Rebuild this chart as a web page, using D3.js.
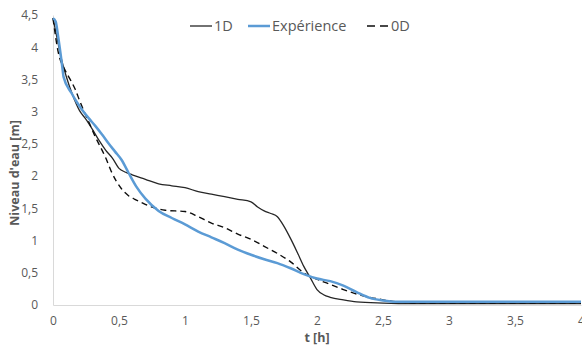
<!DOCTYPE html>
<html lang="fr">
<head>
<meta charset="UTF-8">
<title>Niveau d'eau</title>
<script src="https://cdn.jsdelivr.net/npm/d3@7"></script>
<style>
  body { margin: 0; background: #fff; }
  .tick text { font-family: "Open Sans", sans-serif; font-size: 12px; fill: #595959; }
  .axis-title { font-family: "Open Sans", sans-serif; font-weight: bold; font-size: 12.5px; fill: #595959; }
  .legend text { font-family: "Open Sans", sans-serif; font-size: 14.5px; fill: #595959; }
</style>
</head>
<body>
<div id="chart"></div>
<script>
// water level series
var t1D = [0, 0.03, 0.06, 0.1, 0.15, 0.2, 0.25, 0.3, 0.35, 0.4, 0.45, 0.5, 0.55, 0.6, 0.7, 0.8, 0.9, 1.0, 1.1, 1.2, 1.3, 1.4, 1.5, 1.55, 1.6, 1.65, 1.7, 1.75, 1.8, 1.85, 1.9, 1.95, 2.0, 2.05, 2.1, 2.2, 2.3, 2.5, 2.7, 3.0, 3.5, 4.0];
var v1D = [4.45, 4.15, 3.85, 3.55, 3.25, 3.02, 2.88, 2.72, 2.55, 2.4, 2.28, 2.12, 2.06, 2.02, 1.95, 1.88, 1.85, 1.82, 1.76, 1.72, 1.68, 1.64, 1.6, 1.52, 1.46, 1.42, 1.37, 1.22, 1.03, 0.82, 0.6, 0.42, 0.24, 0.16, 0.12, 0.08, 0.05, 0.03, 0.02, 0.02, 0.02, 0.02];

var tExp = [0, 0.02, 0.04, 0.07, 0.08, 0.14, 0.18, 0.22, 0.27, 0.32, 0.37, 0.42, 0.47, 0.52, 0.57, 0.63, 0.7, 0.8, 0.9, 1.0, 1.1, 1.2, 1.3, 1.4, 1.5, 1.6, 1.7, 1.8, 1.9, 2.0, 2.1, 2.2, 2.3, 2.4, 2.5, 2.6, 3.0, 3.5, 4.0];
var vExp = [4.45, 4.4, 4.15, 3.7, 3.54, 3.29, 3.15, 3.03, 2.9, 2.78, 2.65, 2.51, 2.38, 2.25, 2.06, 1.84, 1.65, 1.46, 1.35, 1.25, 1.14, 1.05, 0.96, 0.86, 0.78, 0.71, 0.65, 0.57, 0.48, 0.41, 0.37, 0.3, 0.2, 0.11, 0.07, 0.05, 0.05, 0.05, 0.05];

var t0D = [0, 0.04, 0.09, 0.13, 0.17, 0.2, 0.24, 0.28, 0.32, 0.36, 0.4, 0.44, 0.48, 0.52, 0.57, 0.62, 0.68, 0.75, 0.85, 1.0, 1.1, 1.2, 1.3, 1.4, 1.5, 1.6, 1.7, 1.8, 1.9, 2.0, 2.1, 2.2, 2.3, 2.4, 2.5, 2.6, 2.8, 3.0, 3.5, 4.0];
var v0D = [4.45, 3.92, 3.65, 3.5, 3.34, 3.18, 2.98, 2.8, 2.61, 2.45, 2.28, 2.08, 1.92, 1.8, 1.7, 1.64, 1.58, 1.52, 1.47, 1.45, 1.37, 1.27, 1.2, 1.1, 1.02, 0.91, 0.8, 0.67, 0.5, 0.4, 0.32, 0.24, 0.17, 0.12, 0.08, 0.05, 0.03, 0.03, 0.03, 0.03];

var xTicks = [0, 0.5, 1, 1.5, 2, 2.5, 3, 3.5, 4];
var yTicks = [0, 0.5, 1, 1.5, 2, 2.5, 3, 3.5, 4, 4.5];
var seriesNames = ["1D", "Expérience", "0D"];

var width = 582, height = 350;
var margin = {top: 15, right: 1, bottom: 45, left: 53};

var svg = d3.select("#chart").append("svg")
    .attr("width", width)
    .attr("height", height);

var x = d3.scaleLinear().domain([0, 4]).range([margin.left, width - margin.right]);
var y = d3.scaleLinear().domain([0, 4.5]).range([height - margin.bottom, margin.top]);

var fmt = function(d) { return String(d).replace(".", ","); };

// axes
var xAxis = svg.append("g")
    .attr("transform", "translate(0," + y(0) + ")")
    .call(d3.axisBottom(x).tickValues(xTicks).tickSize(0).tickPadding(11).tickFormat(fmt));
xAxis.select(".domain").attr("stroke", "#d9d9d9");

var yAxis = svg.append("g")
    .attr("transform", "translate(" + x(0) + ",0)")
    .call(d3.axisLeft(y).tickValues(yTicks).tickSize(0).tickPadding(15).tickFormat(fmt));
yAxis.select(".domain").attr("stroke", "#d9d9d9");

svg.append("text")
    .attr("class", "axis-title")
    .attr("x", x(2))
    .attr("y", 342)
    .attr("text-anchor", "middle")
    .text("t [h]");

svg.append("text")
    .attr("class", "axis-title")
    .attr("transform", "translate(19," + 173 + ") rotate(-90)")
    .attr("text-anchor", "middle")
    .text("Niveau d'eau [m]");

// lines
var line = d3.line()
    .x(function(d) { return x(d[0]); })
    .y(function(d) { return y(d[1]); })
    .curve(d3.curveMonotoneX);

var styles = {
  "1D": {color: "#262626", width: 1.3, dash: null},
  "Expérience": {color: "#5b9bd5", width: 2.5, dash: null},
  "0D": {color: "#0d0d0d", width: 1.4, dash: "6,4"}
};

var series = [
  {name: "1D", data: d3.zip(t1D, v1D)},
  {name: "0D", data: d3.zip(t0D, v0D)},
  {name: "Expérience", data: d3.zip(tExp, vExp)}
];

svg.append("g").selectAll("path")
  .data(series)
  .enter().append("path")
    .attr("d", function(d) { return line(d.data); })
    .attr("fill", "none")
    .attr("stroke", function(d) { return styles[d.name].color; })
    .attr("stroke-width", function(d) { return styles[d.name].width; })
    .attr("stroke-dasharray", function(d) { return styles[d.name].dash; });

// legend
var legendX = [190, 248, 367];
var legend = svg.append("g").attr("class", "legend");
seriesNames.forEach(function(name, i) {
  var g = legend.append("g").attr("transform", "translate(" + legendX[i] + ",26)");
  g.append("line")
    .attr("x1", 0).attr("x2", 22)
    .attr("stroke", styles[name].color)
    .attr("stroke-width", styles[name].width)
    .attr("stroke-dasharray", name === "0D" ? "8,5" : null);
  g.append("text")
    .attr("x", 24)
    .attr("dy", "0.35em")
    .text(name);
});
</script>
</body>
</html>
